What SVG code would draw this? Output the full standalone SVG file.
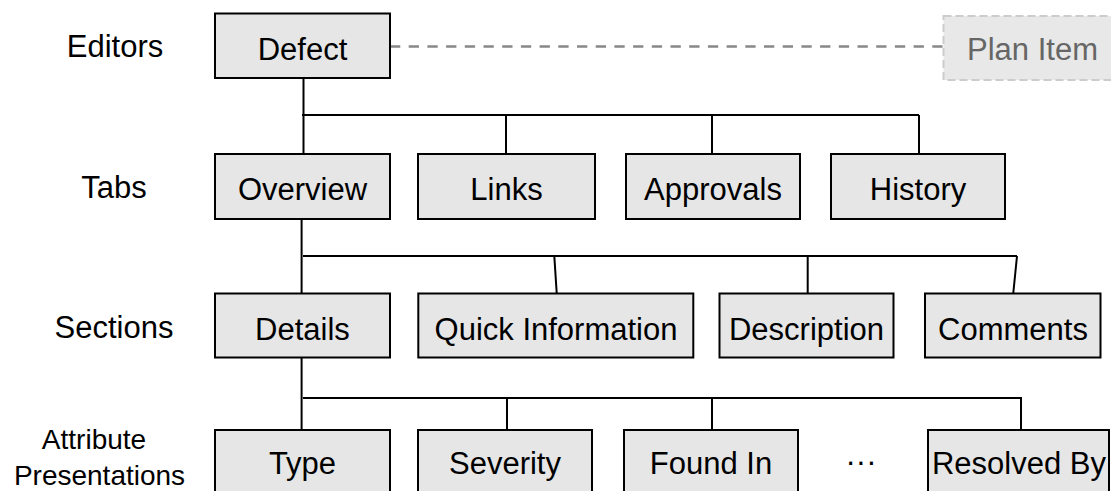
<svg xmlns="http://www.w3.org/2000/svg" width="1111" height="491" viewBox="0 0 1111 491">
<style>
.box{fill:#e6e6e6;stroke:#000;stroke-width:2}
.t{font-family:"Liberation Sans",Arial,sans-serif;font-size:31px;fill:#000;text-anchor:middle}
.lbl{font-family:"Liberation Sans",Arial,sans-serif;font-size:31px;fill:#000;text-anchor:middle}
.lbl2{font-family:"Liberation Sans",Arial,sans-serif;font-size:28px;fill:#000;text-anchor:middle}
.c{fill:none;stroke:#000;stroke-width:2}
.plan{fill:#e8e8e8;stroke:#cccccc;stroke-width:2;stroke-dasharray:8 4}
.plant{font-family:"Liberation Sans",Arial,sans-serif;font-size:31px;fill:#666;text-anchor:middle}
</style>
<rect width="1111" height="491" fill="#fff"/>
<g id="labels">
<text class="lbl" x="115" y="57">Editors</text>
<text class="lbl" x="114" y="198">Tabs</text>
<text class="lbl" x="114" y="338">Sections</text>
<text class="lbl2" x="94" y="449">Attribute</text>
<text class="lbl2" x="99.5" y="485">Presentations</text>
</g>
<g id="connectors">
<line x1="390" y1="46.5" x2="943" y2="46.5" stroke="#888" stroke-width="2.3" stroke-dasharray="10.3 8.4"/>
<path class="c" d="M303.5 78V154M302 115H919M506 115V154M712 115V154M919 115V155"/>
<path class="c" d="M301.6 219V293M303 256H1017M554.3 256L556.7 293M807.7 256V293M1017 256L1013.3 293"/>
<path class="c" d="M301.6 358V430M303 398H1021V430M507 398V430M712 398V430"/>
</g>
<g id="defect"><rect class="box" x="215" y="13.5" width="175" height="64.5"/><text class="t" x="302.5" y="59.5">Defect</text></g>
<g id="plan-item"><rect class="plan" x="943.5" y="16" width="178" height="64"/><text class="plant" x="1032.5" y="59.5">Plan Item</text></g>
<g id="overview"><rect class="box" x="215" y="154" width="175" height="65"/><text class="t" x="302.5" y="200">Overview</text></g>
<g id="links"><rect class="box" x="418" y="154" width="177" height="65"/><text class="t" x="506.5" y="200">Links</text></g>
<g id="approvals"><rect class="box" x="626" y="154" width="174" height="65"/><text class="t" x="713" y="200">Approvals</text></g>
<g id="history"><rect class="box" x="831" y="154" width="174" height="65"/><text class="t" x="918" y="200">History</text></g>
<g id="details"><rect class="box" x="215" y="293.5" width="175" height="64"/><text class="t" x="302.5" y="339.5">Details</text></g>
<g id="quick-information"><rect class="box" x="418.3" y="293.5" width="275" height="64"/><text class="t" x="556" y="339.5">Quick Information</text></g>
<g id="description"><rect class="box" x="719.5" y="293.5" width="174" height="64"/><text class="t" x="806.5" y="339.5">Description</text></g>
<g id="comments"><rect class="box" x="925" y="293.5" width="175.5" height="64"/><text class="t" x="1013" y="339.5">Comments</text></g>
<g id="type"><rect class="box" x="215" y="430" width="175" height="65"/><text class="t" x="302.5" y="474">Type</text></g>
<g id="severity"><rect class="box" x="418" y="430" width="174" height="65"/><text class="t" x="505" y="474">Severity</text></g>
<g id="found-in"><rect class="box" x="624" y="430" width="174" height="65"/><text class="t" x="711" y="474">Found In</text></g>
<g id="ellipsis"><text class="t" x="861" y="472">···</text></g>
<g id="resolved-by"><rect class="box" x="928" y="430" width="181" height="65"/><text class="t" x="1019" y="474">Resolved By</text></g>
</svg>
